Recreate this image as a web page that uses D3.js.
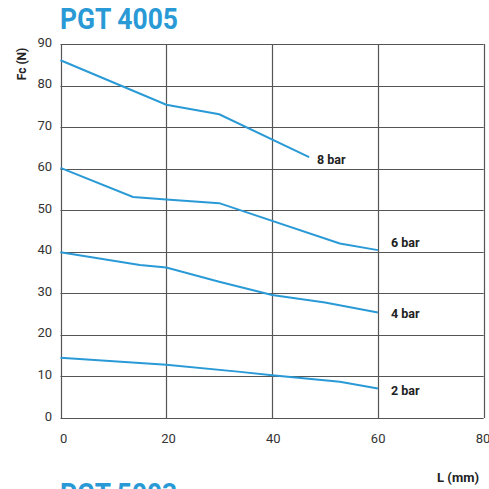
<!DOCTYPE html>
<html><head><meta charset="utf-8">
<script src="https://cdn.jsdelivr.net/npm/d3@7"></script>
<style>
html,body{margin:0;padding:0;background:#fff;}
svg{display:block;}
text{font-family:Roboto,"Noto Sans",sans-serif;}
</style></head>
<body>
<script>
const title = "PGT 4005";
const nextTitle = "PGT 5003";
const xTicks = [0, 20, 40, 60, 80];
const yTicks = [0, 10, 20, 30, 40, 50, 60, 70, 80, 90];
const seriesNames = ["8 bar", "6 bar", "4 bar", "2 bar"];
const bar8 = [[0, 86.1], [20, 75.4], [30, 73.1], [47, 62.8]];
const bar6 = [[0, 60.2], [13.7, 53.2], [20, 52.6], [30, 51.7], [52.8, 42.0], [60, 40.4]];
const bar4 = [[0, 39.9], [15, 36.8], [20, 36.2], [30, 32.8], [40, 29.6], [50, 27.8], [60, 25.4]];
const bar2 = [[0, 14.5], [20, 12.8], [34, 11.1], [40, 10.3], [52.8, 8.7], [60, 7.1]];
const seriesData = [bar8, bar6, bar4, bar2];

const W = 489, H = 489;
const svg = d3.select("body").append("svg").attr("width", W).attr("height", H);

const x = d3.scaleLinear().domain([0, 80]).range([60.5, 483.7]);
const y = d3.scaleLinear().domain([0, 90]).range([418, 44]);
const xLab = d3.scaleLinear().domain([0, 80]).range([63.7, 483]);

const blue = "#2a9ad6";
const gridColor = "#555";

// gridlines
const g = svg.append("g");
g.selectAll("line.h").data(yTicks).enter().append("line")
  .attr("x1", x(0)).attr("x2", x(80))
  .attr("y1", d => Math.round(y(d)) + 0.5).attr("y2", d => Math.round(y(d)) + 0.5)
  .attr("stroke", gridColor).attr("stroke-width", 1.2);
g.selectAll("line.v").data(xTicks).enter().append("line")
  .attr("y1", y(0)).attr("y2", y(90))
  .attr("x1", d => Math.round(x(d)) + 0.5).attr("x2", d => Math.round(x(d)) + 0.5)
  .attr("stroke", gridColor).attr("stroke-width", 1.2);

// tick labels
svg.append("g").selectAll("text").data(yTicks).enter().append("text")
  .attr("x", 52).attr("y", d => y(d) + 2.5)
  .attr("text-anchor", "end").attr("font-size", 13).attr("fill", "#333")
  .text(d => d);
svg.append("g").selectAll("text").data(xTicks).enter().append("text")
  .attr("x", d => xLab(d)).attr("y", 443)
  .attr("text-anchor", "middle").attr("font-size", 13).attr("fill", "#333")
  .text(d => d);

// lines
const line = d3.line().x(d => x(d[0])).y(d => y(d[1]));
svg.append("g").selectAll("path").data(seriesData).enter().append("path")
  .attr("d", line).attr("fill", "none").attr("stroke", blue).attr("stroke-width", 2);

// series labels
const labelPos = [[317, 164], [391, 247], [391, 318], [391, 395]];
svg.append("g").selectAll("text").data(seriesNames).enter().append("text")
  .attr("x", (d, i) => labelPos[i][0]).attr("y", (d, i) => labelPos[i][1])
  .attr("font-size", 12.5).attr("font-weight", "bold").attr("fill", "#222")
  .text(d => d);

// titles
svg.append("text").attr("x", 60).attr("y", 29)
  .attr("font-size", 29).attr("font-weight", "bold").attr("fill", blue)
  .attr("textLength", 118).attr("lengthAdjust", "spacingAndGlyphs")
  .text(title);
svg.append("text").attr("x", 60).attr("y", 504)
  .attr("font-size", 29).attr("font-weight", "bold").attr("fill", blue)
  .attr("textLength", 117).attr("lengthAdjust", "spacingAndGlyphs")
  .text(nextTitle);

// axis titles
svg.append("text").attr("transform", "translate(26,64) rotate(-90)")
  .attr("text-anchor", "middle").attr("font-size", 12).attr("font-weight", "bold").attr("fill", "#222")
  .text("Fc (N)");
svg.append("text").attr("x", 479).attr("y", 482)
  .attr("text-anchor", "end").attr("font-size", 13).attr("font-weight", "bold").attr("fill", "#222")
  .text("L (mm)");
</script>
</body></html>
